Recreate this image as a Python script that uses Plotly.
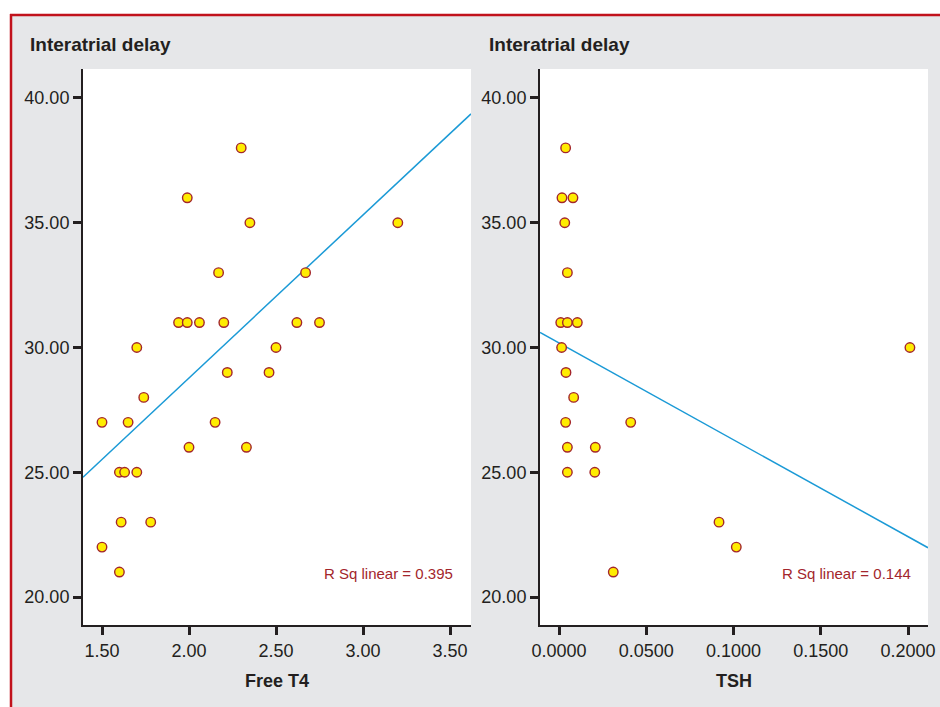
import plotly.graph_objects as go

# ---- data ----
ft4_x = [2.30, 1.99, 2.35, 3.20, 2.17, 2.67, 1.94, 1.99, 2.06, 2.20, 2.62, 2.75,
         1.70, 2.50, 2.22, 2.46, 1.74, 1.50, 1.65, 2.15, 2.00, 2.33, 1.60, 1.63,
         1.70, 1.61, 1.78, 1.50, 1.60]
ft4_y = [38, 36, 35, 35, 33, 33, 31, 31, 31, 31, 31, 31,
         30, 30, 29, 29, 28, 27, 27, 27, 26, 26, 25, 25,
         25, 23, 23, 22, 21]

tsh_x = [0.0038, 0.0017, 0.0080, 0.0033, 0.0048, 0.0010, 0.0048, 0.0105, 0.0015, 0.2011,
         0.0040, 0.0084, 0.0038, 0.0411, 0.0048, 0.0208, 0.0048, 0.0205, 0.0917, 0.1016,
         0.0311]
tsh_y = [38, 36, 36, 35, 33, 31, 31, 31, 30, 30,
         29, 28, 27, 27, 26, 26, 25, 25, 23, 22,
         21]

# fitted lines (slope, intercept)
ft4_fit = (6.53, 15.72)
tsh_fit = (-38.8, 30.18)
ft4_r2 = "R Sq linear = 0.395"
tsh_r2 = "R Sq linear = 0.144"

x1_ticks = [1.5, 2.0, 2.5, 3.0, 3.5]
x2_ticks = [0.0, 0.05, 0.10, 0.15, 0.20]
y_ticks = [20, 25, 30, 35, 40]

title_y = "Interatrial delay"
x1_title = "Free T4"
x2_title = "TSH"

# ---- layout constants ----
W, H = 940, 707
def px(x): return x / W
def py(y): return 1 - y / H

x1_range = [1.3908, 3.6207]
x2_range = [-0.01089, 0.21146]
y_range = [18.878, 41.162]

FONT = "Liberation Sans, Arial, sans-serif"
DARK = "#231f20"
RED = "#a3262c"
BLUE = "#1b9ad6"
GRAY = "#e6e7e9"

fig = go.Figure()

marker = dict(symbol="circle", size=9.5, color="#ffec00",
              line=dict(color="#a3262c", width=1.4))

fx = [x1_range[0], x1_range[1]]
fig.add_trace(go.Scatter(x=fx, y=[ft4_fit[0] * v + ft4_fit[1] for v in fx], mode="lines",
                         line=dict(color=BLUE, width=1.5), xaxis="x", yaxis="y",
                         showlegend=False, hoverinfo="skip"))
tx = [x2_range[0], x2_range[1]]
fig.add_trace(go.Scatter(x=tx, y=[tsh_fit[0] * v + tsh_fit[1] for v in tx], mode="lines",
                         line=dict(color=BLUE, width=1.5), xaxis="x2", yaxis="y2",
                         showlegend=False, hoverinfo="skip"))
fig.add_trace(go.Scatter(x=ft4_x, y=ft4_y, mode="markers", marker=marker,
                         xaxis="x", yaxis="y", showlegend=False, cliponaxis=False))
fig.add_trace(go.Scatter(x=tsh_x, y=tsh_y, mode="markers", marker=marker,
                         xaxis="x2", yaxis="y2", showlegend=False, cliponaxis=False))

axis_common = dict(showgrid=False, zeroline=False, showline=True, linecolor=DARK,
                   linewidth=2, ticks="outside", ticklen=8, tickwidth=2.5,
                   tickcolor=DARK, tickfont=dict(family=FONT, size=18, color=DARK),
                   fixedrange=True, automargin=False)

ydom = [py(625), py(69)]
fig.update_layout(
    width=W, height=H, autosize=False,
    margin=dict(l=0, r=0, t=0, b=0, pad=0),
    paper_bgcolor=GRAY, plot_bgcolor="white",
    xaxis=dict(domain=[px(83), px(471)], range=x1_range, tickvals=x1_ticks,
               tickformat=".2f", anchor="y", **axis_common),
    yaxis=dict(domain=ydom, range=y_range, tickvals=y_ticks, tickformat=".2f",
               anchor="x", **axis_common),
    xaxis2=dict(domain=[px(540), px(928)], range=x2_range, tickvals=x2_ticks,
                tickformat=".4f", anchor="y2", **axis_common),
    yaxis2=dict(domain=ydom, range=y_range, tickvals=y_ticks, tickformat=".2f",
                anchor="x2", **axis_common),
)

shapes = [
    # white outside the red frame
    dict(type="rect", xref="paper", yref="paper", x0=0, x1=1, y0=py(14), y1=1,
         fillcolor="white", line=dict(width=0)),
    dict(type="rect", xref="paper", yref="paper", x0=0, x1=px(10), y0=0, y1=1,
         fillcolor="white", line=dict(width=0)),
    # red frame
    dict(type="line", xref="paper", yref="paper", x0=px(10), x1=1, y0=py(15), y1=py(15),
         line=dict(color="#c1121c", width=2.5)),
    dict(type="line", xref="paper", yref="paper", x0=px(11), x1=px(11), y0=0, y1=py(14),
         line=dict(color="#c1121c", width=2.5)),
]
fig.update_layout(shapes=shapes)

ann = []
for x0, txt in [(28, title_y), (487, title_y)]:
    ann.append(dict(xref="paper", yref="paper", x=px(x0), y=py(45), text="<b>%s</b>" % txt,
                    showarrow=False, xanchor="left", yanchor="middle",
                    font=dict(family=FONT, size=19, color=DARK)))
for xc, txt in [(277, x1_title), (734, x2_title)]:
    ann.append(dict(xref="paper", yref="paper", x=px(xc), y=py(681), text="<b>%s</b>" % txt,
                    showarrow=False, xanchor="center", yanchor="middle",
                    font=dict(family=FONT, size=18, color=DARK)))
for xr, txt in [(455, ft4_r2), (913, tsh_r2)]:
    ann.append(dict(xref="paper", yref="paper", x=px(xr), y=py(573), text=txt,
                    showarrow=False, xanchor="right", yanchor="middle",
                    font=dict(family=FONT, size=15, color=RED)))
fig.update_layout(annotations=ann)

fig.write_html("out.html", config={"displayModeBar": False},
               post_script="document.body.style.margin='0';document.body.style.overflow='hidden';")
